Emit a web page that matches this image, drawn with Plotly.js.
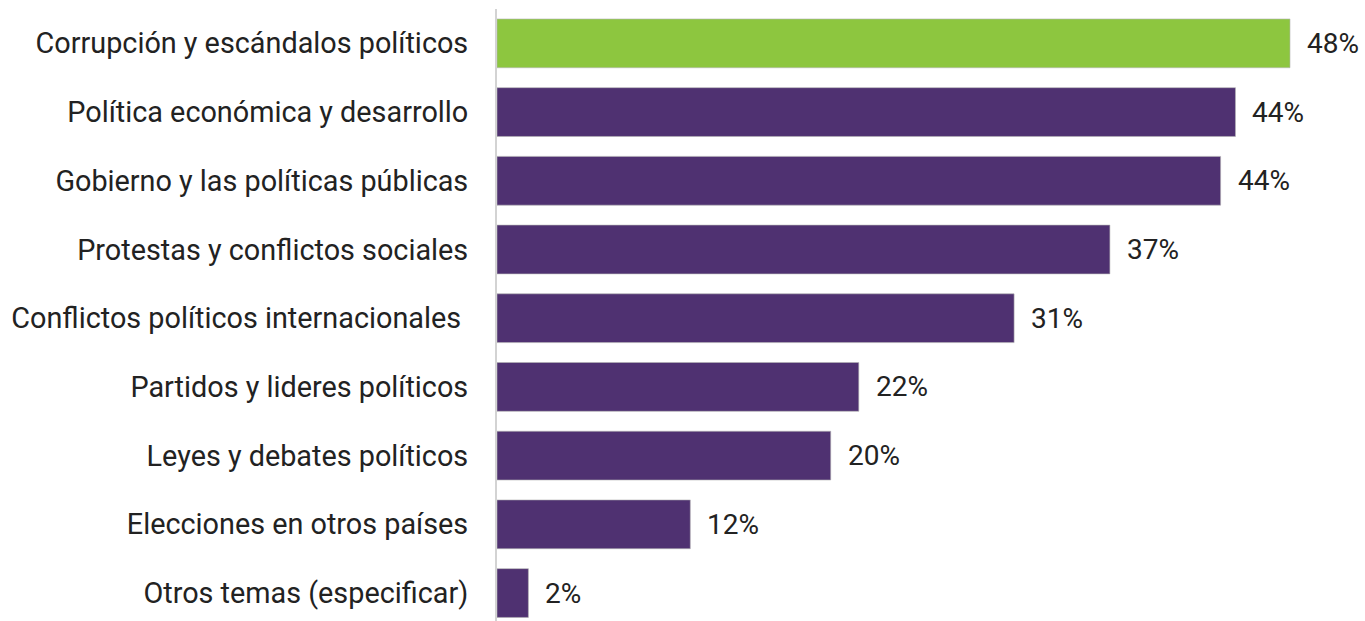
<!DOCTYPE html>
<html>
<head>
<meta charset="utf-8">
<script src="https://cdn.plot.ly/plotly-3.0.1.min.js"></script>
<style>html,body{margin:0;padding:0;background:#fff;}#chart{width:1365px;height:621px;}</style>
</head>
<body>
<div id="chart"></div>
<script>
const categories = [
  "Corrupción y escándalos políticos",
  "Política económica y desarrollo",
  "Gobierno y las políticas públicas",
  "Protestas y conflictos sociales",
  "Conflictos políticos internacionales\u00a0",
  "Partidos y lideres políticos",
  "Leyes y debates políticos",
  "Elecciones en otros países",
  "Otros temas (especificar)"
];
const values = [48.0, 44.7, 43.8, 37.1, 31.3, 21.9, 20.2, 11.7, 1.9];
const valueLabels = ["48%", "44%", "44%", "37%", "31%", "22%", "20%", "12%", "2%"];
const highlightColor = "#8dc63f";
const baseColor = "#4f3171";
const colors = categories.map((c, i) => i === 0 ? highlightColor : baseColor);

const trace = {
  type: "bar",
  orientation: "h",
  x: values,
  y: categories,
  marker: {color: colors, line: {color: "rgba(180,180,180,0.6)", width: 1}},
  width: 0.71,
  hoverinfo: "none"
};

const annotations = categories.map((c, i) => ({
  x: values[i], y: c, xref: "x", yref: "y",
  text: valueLabels[i], showarrow: false,
  xanchor: "left", xshift: 15,
  font: {family: "Roboto, sans-serif", size: 28, color: "#222"}
}));

const layout = {
  width: 1365, height: 621,
  margin: {l: 497, r: 0, t: 8.6, b: 0},
  paper_bgcolor: "#fff", plot_bgcolor: "#fff",
  showlegend: false,
  font: {family: "Roboto, sans-serif", size: 28, color: "#222"},
  xaxis: {range: [0, 52.54], showgrid: false, zeroline: false, showticklabels: false, showline: false, fixedrange: true},
  yaxis: {
    type: "category",
    categoryorder: "array", categoryarray: categories,
    range: [8.407, -0.5],
    showgrid: false, zeroline: false,
    showline: true, linecolor: "#d3d3d3", linewidth: 2,
    ticks: "", ticklabelstandoff: 21,
    tickfont: {family: "Roboto, sans-serif", size: 28.8, color: "#222"}
  },
  annotations: annotations
};

Plotly.newPlot("chart", [trace], layout, {displayModeBar: false, staticPlot: true});
</script>
</body>
</html>
